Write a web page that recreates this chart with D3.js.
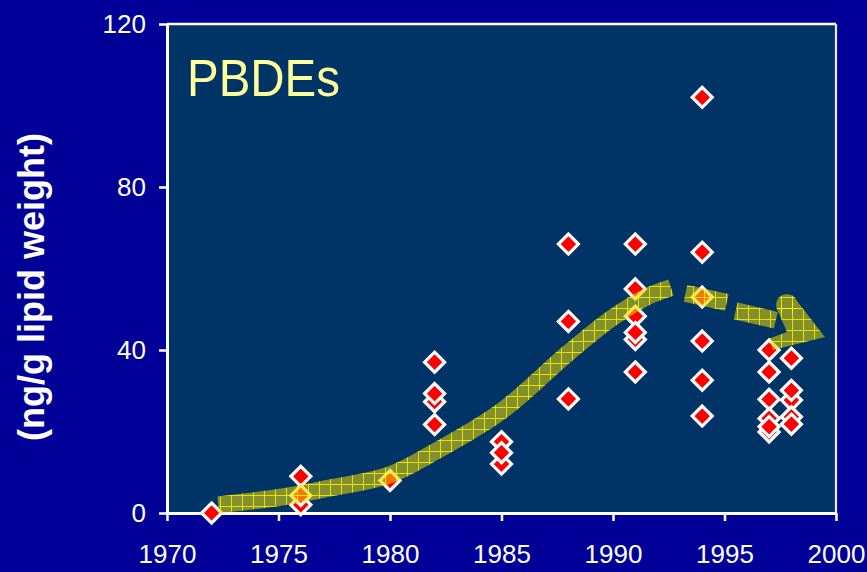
<!DOCTYPE html>
<html>
<head>
<meta charset="utf-8">
<script src="https://cdn.jsdelivr.net/npm/d3@7"></script>
<style>
  html, body { margin: 0; padding: 0; background: #000099; }
  svg { display: block; }
  text { font-family: "Liberation Sans", Arial, sans-serif; }
</style>
</head>
<body>
<svg id="chart" width="867" height="572"></svg>
<script>
// ---- data ----
const sampleYears = [1972,
  1976, 1976, 1976,
  1980,
  1982, 1982, 1982, 1982,
  1985, 1985, 1985,
  1988, 1988, 1988,
  1991, 1991, 1991, 1991, 1991, 1991,
  1994, 1994, 1994, 1994, 1994, 1994,
  1997, 1997, 1997, 1997, 1997, 1997,
  1998, 1998, 1998, 1998, 1998];
const pbdeValues = [0,
  2, 9, 4.3,
  8,
  37, 27.3, 29.3, 21.7,
  12, 17.5, 14.8,
  66, 47, 28,
  66, 55, 48.3, 42.6, 44.3, 34.6,
  102, 64, 53, 42.2, 32.6, 23.8,
  40, 34.6, 27.9, 23.2, 19.9, 21.2,
  38, 27.7, 30.1, 23.6, 21.8];

const xTicks = [1970, 1975, 1980, 1985, 1990, 1995, 2000];
const yTicks = [0, 40, 80, 120];

// trend annotation (rising band, dashed continuation, arrow)
const trendYears  = [1972.3, 1975, 1977, 1980, 1982, 1985, 1988, 1990, 1991.5, 1992.6];
const trendValues = [2.0,    3.8,  5.8,  9.4,  15,   25,   39.3, 48,   53,     55.3];
const dashYears  = [[1993.25, 1995.1], [1995.5, 1997.3]];
const dashValues = [[53.9, 51.7], [49.6, 47.3]];
const arrowYears  = [1997.35, 1998.25, 1999.5, 1997.17, 1997.04, 1997.8];
const arrowValues = [50.1,    52.0,    43.2,   40.0,    42.9,    44.4];

const titleText = "PBDEs";
const yTitle = "(ng/g lipid weight)";

// ---- layout ----
const W = 867, H = 572;
const m = { left: 167, right: 31, top: 24, bottom: 59 };
const svg = d3.select("#chart");

const x = d3.scaleLinear().domain([1970, 2000]).range([m.left, W - m.right]);
const y = d3.scaleLinear().domain([0, 120]).range([H - m.bottom, m.top]);

// pattern (grid lines only)
const defs = svg.append("defs");
const pat = defs.append("pattern").attr("id", "grid")
  .attr("patternUnits", "userSpaceOnUse").attr("width", 11).attr("height", 11);
pat.append("rect").attr("x", 0).attr("y", 0).attr("width", 1).attr("height", 11).attr("fill", "#ffff00").attr("opacity", 0.75);
pat.append("rect").attr("x", 0).attr("y", 0).attr("width", 11).attr("height", 1).attr("fill", "#ffff00").attr("opacity", 0.75);

// background
svg.append("rect").attr("width", W).attr("height", H).attr("fill", "#000099");
svg.append("rect")
  .attr("x", x(1970)).attr("y", y(120))
  .attr("width", x(2000) - x(1970)).attr("height", y(0) - y(120))
  .attr("fill", "#003366");

// frame top/right
svg.append("line").attr("x1", x(1970)).attr("x2", x(2000)).attr("y1", y(120)).attr("y2", y(120))
  .attr("stroke", "#ffffff").attr("stroke-width", 2.5);
svg.append("line").attr("x1", x(2000)).attr("x2", x(2000)).attr("y1", y(120)).attr("y2", y(0))
  .attr("stroke", "#e8e8ff").attr("stroke-width", 2.2);

// axes
const yAxis = d3.axisLeft(y).tickValues(yTicks).tickSize(8).tickSizeOuter(0).tickPadding(13)
  .tickFormat(d3.format("d"));
const gy = svg.append("g").attr("transform", `translate(${x(1970)},0)`).call(yAxis);
const xAxis = d3.axisBottom(x).tickValues(xTicks).tickSize(8).tickSizeOuter(0).tickPadding(24)
  .tickFormat(d3.format("d"));
const gx = svg.append("g").attr("transform", `translate(0,${y(0)})`).call(xAxis);

[gx, gy].forEach(g => {
  g.select(".domain").attr("stroke", "#ffffff").attr("stroke-width", 3);
  g.selectAll(".tick line").attr("stroke", "#ffffff").attr("stroke-width", 2.5);
  g.selectAll(".tick text").attr("fill", "#ffffff")
    .style("font-family", '"Liberation Sans", Arial, sans-serif')
    .style("font-size", "26px");
});

// points
const half = 10;
const diamond = `M0,${-half}L${half},0L0,${half}L${-half},0Z`;
svg.append("g").selectAll("path")
  .data(sampleYears.map((yr, i) => ({ yr, v: pbdeValues[i] })))
  .join("path")
  .attr("d", diamond)
  .attr("transform", d => `translate(${x(d.yr)},${y(d.v)})`)
  .attr("fill", "#ff0000")
  .attr("stroke", "#ffffff")
  .attr("stroke-width", 3.2)
  .attr("stroke-linejoin", "miter");

// trend band
const bandLine = d3.line().x(d => x(d[0])).y(d => y(d[1])).curve(d3.curveCatmullRom);
const trendPts = trendYears.map((t, i) => [t, trendValues[i]]);
const straight = d3.line().x(d => x(d[0])).y(d => y(d[1]));
const dashPts = dashYears.map((ys, i) => ys.map((t, j) => [t, dashValues[i][j]]));
const arrowPts = arrowYears.map((t, i) => [t, arrowValues[i]]);
const arrowPoly = d3.line().x(d => x(d[0])).y(d => y(d[1])).curve(d3.curveLinearClosed);
const capCx = (x(arrowPts[0][0]) + x(arrowPts[1][0])) / 2;
const capCy = (y(arrowPts[0][1]) + y(arrowPts[1][1])) / 2;
const capR = Math.hypot(x(arrowPts[1][0]) - x(arrowPts[0][0]), y(arrowPts[1][1]) - y(arrowPts[0][1])) / 2;

function drawBand(g, paint) {
  g.append("path").attr("d", bandLine(trendPts)).attr("fill", "none")
    .attr("stroke", paint).attr("stroke-width", 17).attr("stroke-linecap", "butt");
  dashPts.forEach(p => g.append("path").attr("d", straight(p)).attr("fill", "none")
    .attr("stroke", paint).attr("stroke-width", 17).attr("stroke-linecap", "butt"));
  g.append("path").attr("d", arrowPoly(arrowPts)).attr("fill", paint);
  g.append("circle").attr("cx", capCx).attr("cy", capCy).attr("r", capR).attr("fill", paint);
}
drawBand(svg.append("g").attr("opacity", 0.58), "#e6d200");
drawBand(svg.append("g"), "url(#grid)");

// title in plot
svg.append("text")
  .attr("x", x(1970) + 20).attr("y", 96)
  .attr("fill", "#ffff99")
  .style("font-size", "51px")
  .attr("textLength", 153).attr("lengthAdjust", "spacingAndGlyphs")
  .text(titleText);

// y axis title
svg.append("text")
  .attr("transform", "translate(44,287) rotate(-90)")
  .attr("text-anchor", "middle")
  .attr("fill", "#ffffff")
  .style("font-size", "36px")
  .style("font-weight", "bold")
  .text(yTitle);
</script>
</body>
</html>
